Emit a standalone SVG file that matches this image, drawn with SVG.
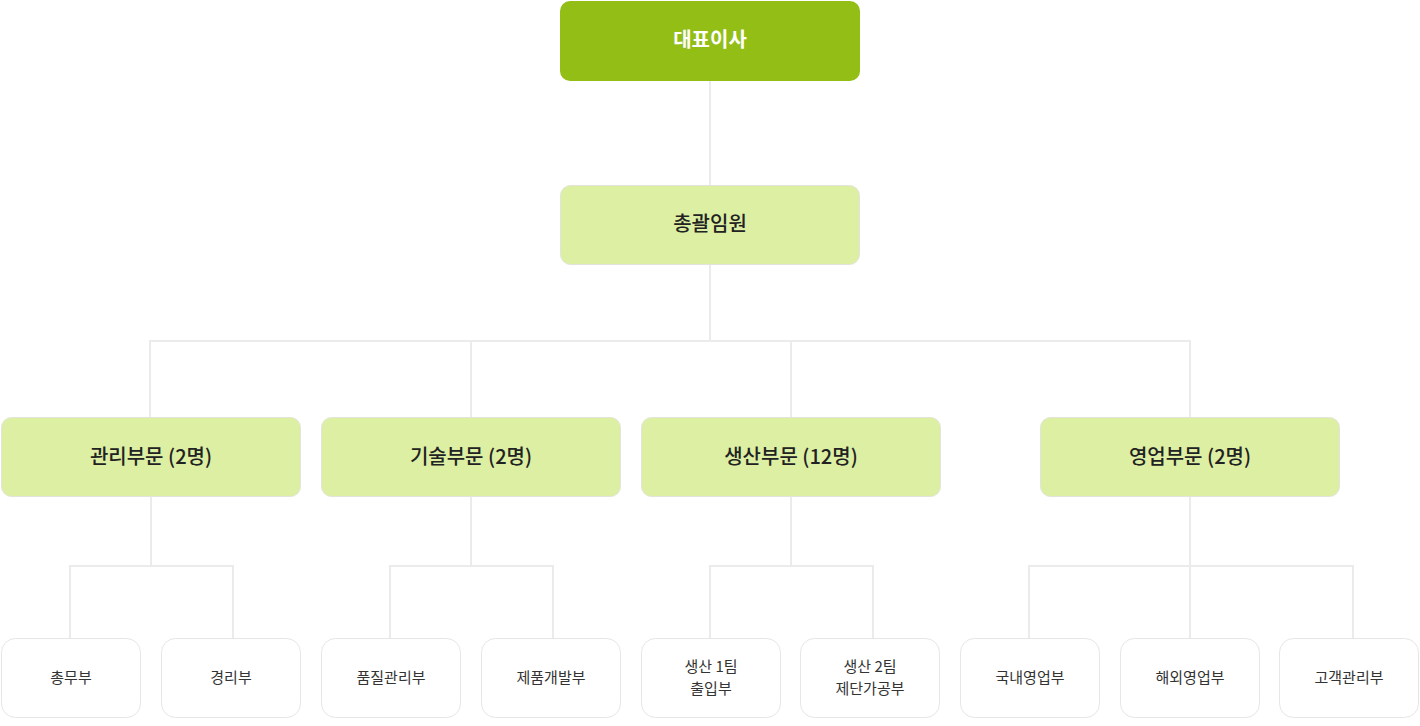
<svg xmlns="http://www.w3.org/2000/svg" width="1420" height="726" viewBox="0 0 1420 726">
<style>
.ln{fill:none;stroke:#ebebeb;stroke-width:2}
.top{fill:#93be16}
.mid{fill:#dcefa3;stroke:#e2e4dc;stroke-width:1}
.leaf{fill:#ffffff;stroke:#e6e6e6;stroke-width:1}
text{font-family:"Noto Sans CJK KR","Noto Sans",sans-serif;text-anchor:middle;dominant-baseline:central}
.t1{font-size:20px;font-weight:700;fill:#ffffff}
.t2{font-size:20px;font-weight:500;fill:#222222}
.t3{font-size:15px;font-weight:400;fill:#333333}
</style>
<rect width="1420" height="726" fill="#ffffff"/>
<g id="connectors">
<path class="ln" d="M710 81V185M710 265V341M150 417V341H1190V417M471 341V417M791 341V417"/>
<path class="ln" d="M151 497V566M70 638V566H233V638"/>
<path class="ln" d="M471 497V566M390 638V566H553V638"/>
<path class="ln" d="M791 497V566M710 638V566H873V638"/>
<path class="ln" d="M1190 497V638M1029 638V566H1353V638"/>
</g>
<g id="ceo"><rect class="top" x="560" y="1" width="300" height="80" rx="10"/><text class="t1" x="710" y="38">대표이사</text></g>
<g id="exec"><rect class="mid" x="560.5" y="185.5" width="299" height="79" rx="10"/><text class="t2" x="710" y="222">총괄임원</text></g>
<g id="dept-admin"><rect class="mid" x="1.5" y="417.5" width="299" height="79" rx="10"/><text class="t2" x="151" y="455">관리부문 (2명)</text></g>
<g id="dept-tech"><rect class="mid" x="321.5" y="417.5" width="299" height="79" rx="10"/><text class="t2" x="471" y="455">기술부문 (2명)</text></g>
<g id="dept-prod"><rect class="mid" x="641.5" y="417.5" width="299" height="79" rx="10"/><text class="t2" x="791" y="455">생산부문 (12명)</text></g>
<g id="dept-sales"><rect class="mid" x="1040.5" y="417.5" width="299" height="79" rx="10"/><text class="t2" x="1190" y="455">영업부문 (2명)</text></g>
<g id="leaf-1"><rect class="leaf" x="1.5" y="638.5" width="139" height="79" rx="14"/><text class="t3" x="71" y="676.5">총무부</text></g>
<g id="leaf-2"><rect class="leaf" x="161.5" y="638.5" width="139" height="79" rx="14"/><text class="t3" x="231" y="676.5">경리부</text></g>
<g id="leaf-3"><rect class="leaf" x="321.5" y="638.5" width="139" height="79" rx="14"/><text class="t3" x="391" y="676.5">품질관리부</text></g>
<g id="leaf-4"><rect class="leaf" x="481.5" y="638.5" width="139" height="79" rx="14"/><text class="t3" x="551" y="676.5">제품개발부</text></g>
<g id="leaf-5"><rect class="leaf" x="641.5" y="638.5" width="139" height="79" rx="14"/><text class="t3" x="711" y="665.5">생산 1팀</text><text class="t3" x="711" y="687.5">출입부</text></g>
<g id="leaf-6"><rect class="leaf" x="800.5" y="638.5" width="139" height="79" rx="14"/><text class="t3" x="870" y="665.5">생산 2팀</text><text class="t3" x="870" y="687.5">제단가공부</text></g>
<g id="leaf-7"><rect class="leaf" x="960.5" y="638.5" width="139" height="79" rx="14"/><text class="t3" x="1030" y="676.5">국내영업부</text></g>
<g id="leaf-8"><rect class="leaf" x="1120.5" y="638.5" width="139" height="79" rx="14"/><text class="t3" x="1190" y="676.5">해외영업부</text></g>
<g id="leaf-9"><rect class="leaf" x="1279.5" y="638.5" width="139" height="79" rx="14"/><text class="t3" x="1349" y="676.5">고객관리부</text></g>
</svg>
